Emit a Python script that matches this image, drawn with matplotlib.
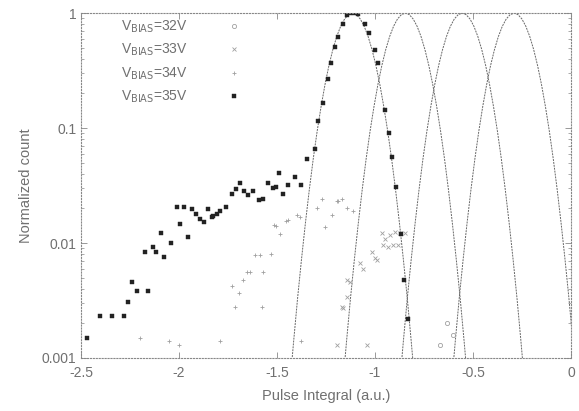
import numpy as np
import matplotlib
matplotlib.use('Agg')
import matplotlib.pyplot as plt

plt.rcParams['font.family'] = ['Liberation Sans', 'DejaVu Sans']

# forma del ajuste gaussiano: desplazamiento respecto al pico y cuenta normalizada
fit_dx = [-0.32, -0.30, -0.28, -0.26, -0.24, -0.22, -0.20, -0.18, -0.16, -0.14, -0.12,
          -0.10, -0.08, -0.06, -0.04, -0.02, 0.0, 0.02, 0.04, 0.06, 0.08, 0.10, 0.12,
          0.14, 0.16, 0.18, 0.20, 0.22, 0.24, 0.26, 0.28, 0.30, 0.32]
fit_y = [0.00057, 0.0014, 0.0033, 0.0072, 0.0149, 0.0292, 0.054, 0.094, 0.154, 0.239, 0.350,
         0.482, 0.627, 0.769, 0.890, 0.971, 1.0, 0.971, 0.890, 0.769, 0.627, 0.482, 0.350,
         0.239, 0.154, 0.094, 0.054, 0.0292, 0.0149, 0.0072, 0.0033, 0.0014, 0.00057]

# posición del pico de cada serie
labels = ['V$_{\\mathrm{BIAS}}$=32V', 'V$_{\\mathrm{BIAS}}$=33V',
          'V$_{\\mathrm{BIAS}}$=34V', 'V$_{\\mathrm{BIAS}}$=35V']
peaks = [-0.29, -0.555, -0.845, -1.115]

# datos medidos
x32 = [-0.668, -0.634, -0.60]
y32 = [0.0013, 0.0020, 0.0016]

x33 = [-1.196, -1.170, -1.162, -1.144, -1.144, -1.128, -1.077, -1.060, -1.043, -1.017, -1.000,
       -0.992, -0.966, -0.958, -0.949, -0.932, -0.923, -0.907, -0.898, -0.881, -0.872, -0.847]
y33 = [0.0013, 0.0028, 0.0027, 0.0034, 0.0048, 0.0046, 0.0067, 0.0060, 0.0013, 0.0084, 0.0074,
       0.0071, 0.0122, 0.0097, 0.0109, 0.0093, 0.0117, 0.0097, 0.0126, 0.0097, 0.0122, 0.0122]

x34 = [-2.199, -2.050, -2.000, -1.791, -1.731, -1.714, -1.693, -1.672, -1.655, -1.638, -1.612,
       -1.587, -1.578, -1.570, -1.532, -1.514, -1.505, -1.485, -1.454, -1.442, -1.400, -1.383,
       -1.380, -1.297, -1.272, -1.255, -1.221, -1.196, -1.187, -1.170, -1.144, -1.110]
y34 = [0.0015, 0.0014, 0.0013, 0.0014, 0.0042, 0.0028, 0.0037, 0.0048, 0.0056, 0.0056, 0.0079,
       0.0079, 0.0028, 0.0056, 0.0080, 0.0143, 0.0141, 0.0120, 0.0156, 0.0158, 0.0175, 0.0168,
       0.0014, 0.0200, 0.0240, 0.0138, 0.0175, 0.0230, 0.0230, 0.0240, 0.0200, 0.0190]

x35 = [-2.468, -2.403, -2.342, -2.279, -2.259, -2.238, -2.216, -2.158, -2.173, -2.134, -2.116,
       -2.094, -2.075, -2.043, -2.012, -1.995, -1.974, -1.956, -1.935, -1.915, -1.893, -1.872,
       -1.854, -1.830, -1.825, -1.808, -1.791, -1.760, -1.730, -1.709, -1.689, -1.668, -1.648,
       -1.621, -1.590, -1.570, -1.544, -1.522, -1.505, -1.488, -1.468, -1.442, -1.408, -1.379,
       -1.349, -1.308, -1.289, -1.267, -1.241, -1.226, -1.204, -1.187, -1.162, -1.144, -1.125,
       -1.105, -1.085, -1.051, -1.029, -1.000, -0.983, -0.950, -0.930, -0.912, -0.895, -0.868,
       -0.852, -0.830]
y35 = [0.0015, 0.0023, 0.0023, 0.0023, 0.0031, 0.0046, 0.0038, 0.0038, 0.0084, 0.0092, 0.0084,
       0.0123, 0.0076, 0.0101, 0.0207, 0.0145, 0.0207, 0.0113, 0.0199, 0.0179, 0.0161, 0.0152,
       0.0199, 0.0169, 0.0172, 0.0180, 0.0190, 0.0207, 0.0265, 0.0293, 0.0330, 0.0286, 0.0261,
       0.0286, 0.0237, 0.0243, 0.0335, 0.0299, 0.0310, 0.0409, 0.0267, 0.0319, 0.0373, 0.0319,
       0.0534, 0.0652, 0.116, 0.166, 0.27, 0.365, 0.51, 0.62, 0.81, 0.96, 1.0,
       1.0, 0.98, 0.81, 0.67, 0.48, 0.365, 0.144, 0.090, 0.056, 0.031, 0.012,
       0.0048, 0.0022]

gris = '#a0a0a0'
texto = '#707070'

fig = plt.figure(figsize=(5.79, 4.11), dpi=100)
ax = fig.add_axes([0.140, 0.129, 0.846, 0.839])

# curvas de ajuste
for p in peaks:
    ax.plot(np.array(fit_dx) + p, fit_y, color='#666666', lw=0.7, ls=(0, (2, 1)))

ax.plot(x32, y32, ls='none', marker='o', ms=3, mfc='none', mec=gris, mew=0.6, label=labels[0])
ax.plot(x33, y33, ls='none', marker='x', ms=3, mec=gris, mew=0.6, label=labels[1])
ax.plot(x34, y34, ls='none', marker='+', ms=3.5, mec=gris, mew=0.6, label=labels[2])
ax.plot(x35, y35, ls='none', marker='s', ms=2.5, mfc='#222222', mec='#222222', mew=0.3, label=labels[3])

ax.set_yscale('log')
ax.set_xlim(-2.5, 0)
ax.set_ylim(0.001, 1)
ax.set_xticks([-2.5, -2, -1.5, -1, -0.5, 0])
ax.set_xticklabels(['-2.5', '-2', '-1.5', '-1', '-0.5', '0'])
ax.set_yticks([0.001, 0.01, 0.1, 1])
ax.set_yticklabels(['0.001', '0.01', '0.1', '1'])

for s in ax.spines.values():
    s.set_linestyle(':')
    s.set_color('#888888')
    s.set_linewidth(0.8)
ax.tick_params(which='both', direction='in', color='#888888', labelcolor=texto, labelsize=10,
               top=True, right=True)
ax.tick_params(which='major', length=4, width=0.6)
ax.tick_params(which='minor', length=2, width=0.5)
ax.tick_params(axis='x', pad=6)

ax.set_xlabel('Pulse Integral (a.u.)', color=texto, fontsize=10.5, labelpad=6)
ax.set_ylabel('Normalized count', color=texto, fontsize=10.5, labelpad=6)

leg = ax.legend(loc='upper left', bbox_to_anchor=(0.07, 1.0), frameon=False, markerfirst=False,
                fontsize=10, handlelength=1.0, handletextpad=2.8, labelspacing=0.5,
                borderaxespad=0)
for t in leg.get_texts():
    t.set_color(texto)

fig.savefig('out.png', dpi=100)
